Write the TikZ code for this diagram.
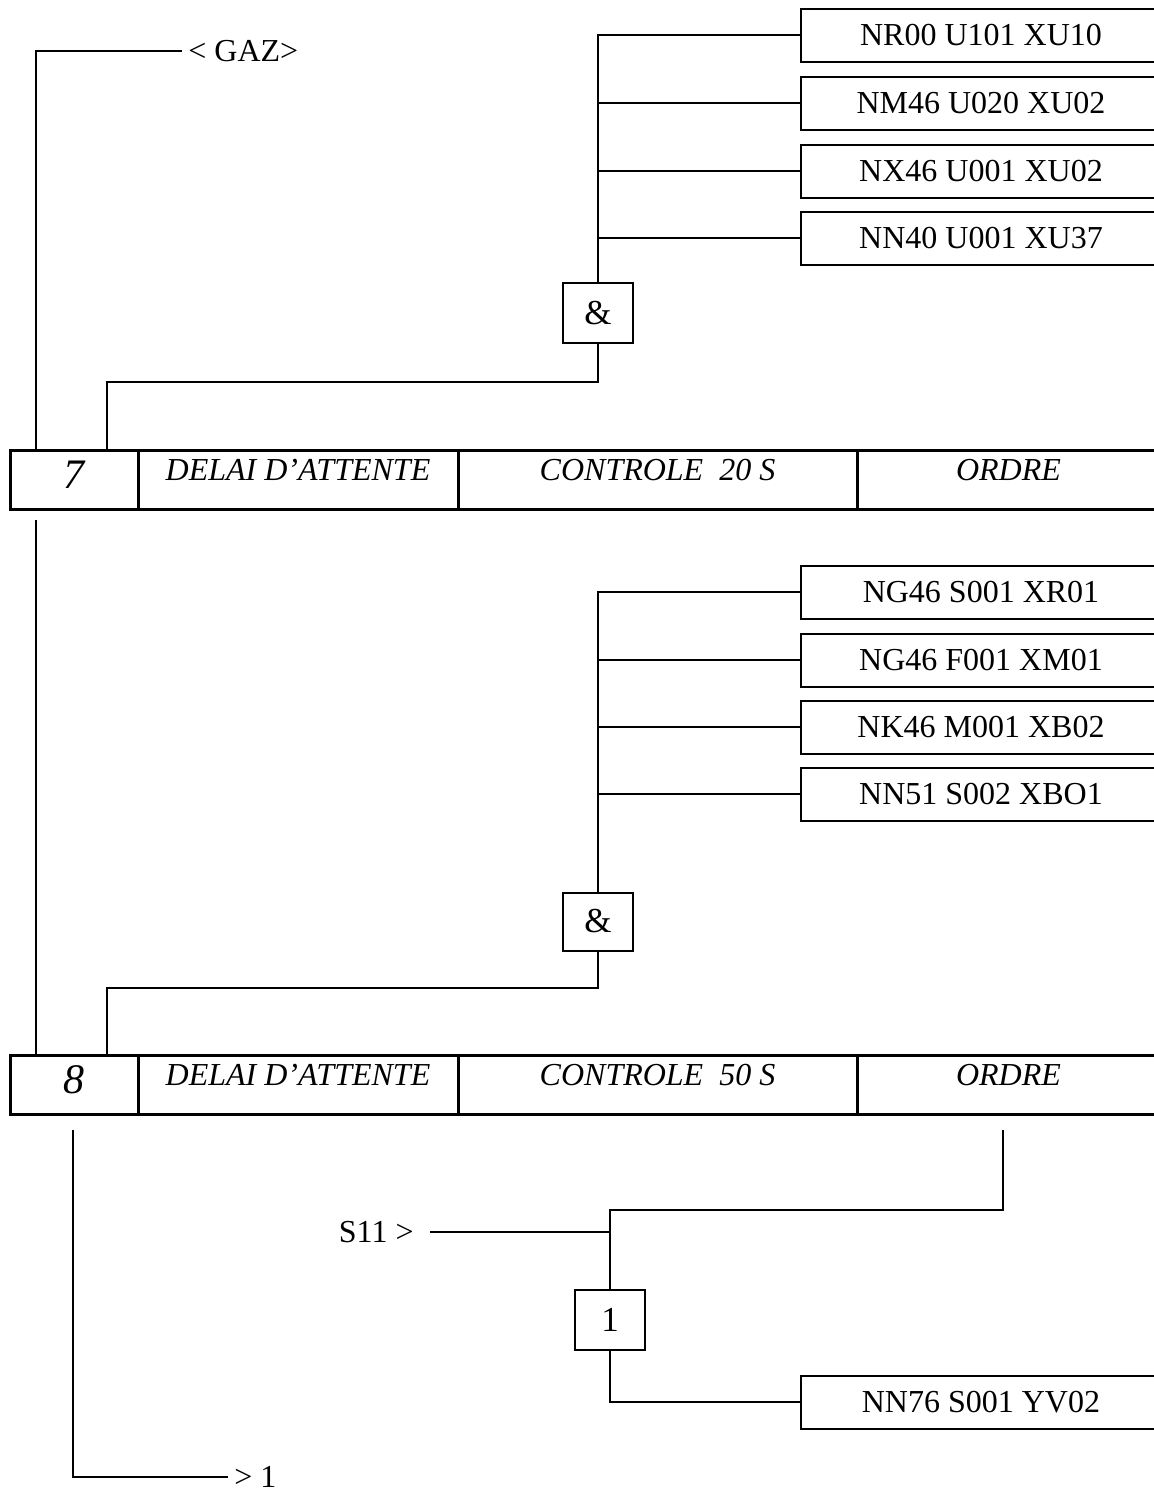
\documentclass[tikz,border=0pt]{standalone}
\usepackage{fontspec}
\setmainfont{Liberation Serif}
\usetikzlibrary{positioning, calc}
\newcommand{\grafsize}{\fontsize{16pt}{19pt}\selectfont}
\tikzset{
    varbox/.style={rectangle, draw, line width=1pt, minimum width=180pt, minimum height=26.5pt, anchor=west, inner sep=0pt, font=\grafsize},
    gatebox/.style={rectangle, draw, line width=1pt, minimum width=35pt, minimum height=30pt, inner sep=0pt, font=\fontsize{17.5pt}{20pt}\selectfont},
    stepcell/.style={rectangle, draw, line width=1.5pt, outer sep=0pt, inner xsep=0pt, inner ysep=0pt, text height=15pt, text depth=14.5pt, align=center, font=\grafsize\itshape},
    stepnum/.style={stepcell, text height=19pt, text depth=10.5pt, font=\fontsize{21pt}{24pt}\selectfont\itshape},
}

\begin{document}
\begin{tikzpicture}[
  x=0.5pt, y=-0.5pt,
  link/.style={line width=1pt},
  freelabel/.style={inner sep=3pt, font=\grafsize}
]
\useasboundingbox (0,0) rectangle (1154,1494);
\clip (0,0) rectangle (1154,1494);

% Step 7
\node[stepnum, minimum width=64pt, anchor=north west] (s7num) at (10,450) {7};
\node[stepcell, minimum width=160pt, right=0pt of s7num.north east, anchor=north west] (s7wait) {DELAI D’ATTENTE};
\node[stepcell, minimum width=199.5pt, right=0pt of s7wait.north east, anchor=north west] (s7ctrl) {CONTROLE~~20 S};
\node[stepcell, minimum width=151.5pt, right=0pt of s7ctrl.north east, anchor=north west] (s7order) {ORDRE};

% Step 8
\node[stepnum, minimum width=64pt, anchor=north west] (s8num) at (10,1055) {8};
\node[stepcell, minimum width=160pt, right=0pt of s8num.north east, anchor=north west] (s8wait) {DELAI D’ATTENTE};
\node[stepcell, minimum width=199.5pt, right=0pt of s8wait.north east, anchor=north west] (s8ctrl) {CONTROLE~~50 S};
\node[stepcell, minimum width=151.5pt, right=0pt of s8ctrl.north east, anchor=north west] (s8order) {ORDRE};

% Conditions of step 7
\node[varbox] (c7a) at (800,35) {NR00 U101 XU10};
\node[varbox] (c7b) at (800,103) {NM46 U020 XU02};
\node[varbox] (c7c) at (800,171) {NX46 U001 XU02};
\node[varbox] (c7d) at (800,238) {NN40 U001 XU37};
\node[gatebox] (and7) at (598,313) {\&};

% Conditions of step 8
\node[varbox] (c8a) at (800,592) {NG46 S001 XR01};
\node[varbox] (c8b) at (800,660) {NG46 F001 XM01};
\node[varbox] (c8c) at (800,727) {NK46 M001 XB02};
\node[varbox] (c8d) at (800,794) {NN51 S002 XBO1};
\node[gatebox, minimum height=29pt] (and8) at (598,921.5) {\&};

% Order of step 8
\node[gatebox] (or8) at (610,1320) {1};
\node[varbox] (out8) at (800,1402) {NN76 S001 YV02};

% Free labels
\node[freelabel, anchor=west] (gaz) at (182,51) {< GAZ>};
\node[freelabel, anchor=east, inner xsep=8pt] (s11) at (430,1232) {S11 >};
\node[freelabel, anchor=west] (back) at (228,1477) {> 1};

\coordinate (g7) at (36,51);
\coordinate (k7) at (107,382);
\coordinate (k8) at (107,988);
\coordinate (o8) at (1003,1130);
\coordinate (j8) at (610,1210);
\coordinate (l8) at (73,1130);

% Links of step 7
\draw[link] (gaz.west) -| (g7 |- s7num.north);
\draw[link] (c7a.west) -| (and7.north);
\draw[link] (c7b.west) -- (c7b.west -| and7.north);
\draw[link] (c7c.west) -- (c7c.west -| and7.north);
\draw[link] (c7d.west) -- (c7d.west -| and7.north);
\draw[link] (and7.south) |- (k7) -- (k7 |- s7num.north);

% Link 7 to 8
\draw[link] ($(g7 |- s7num.south)+(0,11)$) -- (g7 |- s8num.north);

% Links of step 8
\draw[link] (c8a.west) -| (and8.north);
\draw[link] (c8b.west) -- (c8b.west -| and8.north);
\draw[link] (c8c.west) -- (c8c.west -| and8.north);
\draw[link] (c8d.west) -- (c8d.west -| and8.north);
\draw[link] (and8.south) |- (k8) -- (k8 |- s8num.north);

% Order and return
\draw[link] (o8) |- (j8) -- (or8.north);
\draw[link] (s11.east) -- (s11.east -| j8);
\draw[link] (or8.south) |- (out8.west);
\draw[link] (l8) |- (back.west);
\end{tikzpicture}
\end{document}
